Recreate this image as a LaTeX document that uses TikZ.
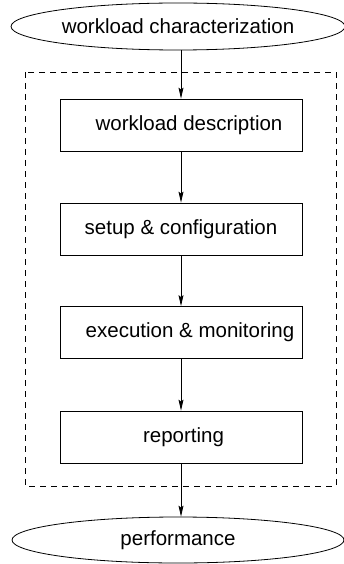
\documentclass[tikz,border=0pt]{standalone}
\usepackage{fontspec}
\setmainfont{Liberation Sans}
\usetikzlibrary{shapes.geometric,arrows.meta}
\begin{document}
\begin{tikzpicture}[x=1pt,y=-1pt,
  every node/.style={font=\fontsize{20.5}{24}\selectfont},
  stepbox/.style={draw,line width=0.8pt,rectangle,minimum width=242pt,minimum height=52pt,inner sep=0pt},
  ovalnode/.style={draw,line width=0.8pt,ellipse,inner sep=0pt},
  arr/.style={line width=0.8pt,-{Stealth[length=11pt,width=5pt,inset=2pt]}},
  frame/.style={draw,line width=0.8pt,dash pattern=on 6pt off 5pt}]
\useasboundingbox (0,0) rectangle (343,564);
\node[ovalnode,minimum width=334pt,minimum height=47pt] (e1) at (178,26.5) {workload characterization};
\node[stepbox] (b1) at (181,125) {\hspace*{16pt}workload description};
\node[stepbox] (b2) at (181,229) {setup \& configuration};
\node[stepbox] (b3) at (181,332.5) {\hspace*{18pt}execution \& monitoring};
\node[stepbox] (b4) at (181,437) {\hspace*{5pt}reporting};
\node[ovalnode,minimum width=332pt,minimum height=46pt] (e2) at (178,540) {performance};
\coordinate (fa) at (25,72);
\coordinate (fb) at (336,486);
\path[frame] (fa) rectangle (fb);
\draw[arr] (b1.north |- e1.south) -- (b1.north);
\draw[arr] (b1.south) -- (b2.north);
\draw[arr] (b2.south) -- (b3.north);
\draw[arr] (b3.south) -- (b4.north);
\draw[arr] (b4.south) -- (b4.south |- e2.north);
\end{tikzpicture}
\end{document}
